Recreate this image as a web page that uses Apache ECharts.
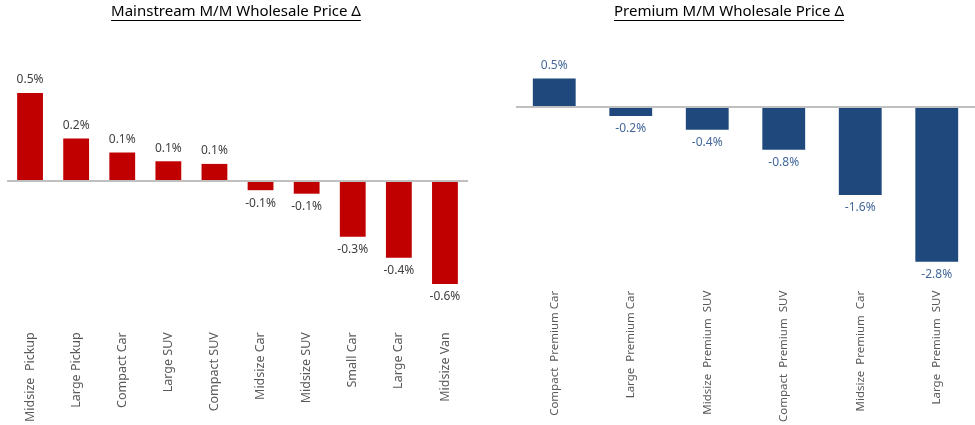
<!DOCTYPE html>
<html>
<head>
<meta charset="utf-8">
<title>Wholesale Price</title>
<script src="https://cdn.jsdelivr.net/npm/echarts@6/dist/echarts.min.js"></script>
<style>
  html, body { margin: 0; padding: 0; background: #fff; }
  #main { width: 975px; height: 425px; }
</style>
</head>
<body>
<div id="main"></div>
<script>
// mainstream segments
var mainCats = ['Midsize  Pickup', 'Large Pickup', 'Compact Car', 'Large SUV', 'Compact SUV',
                'Midsize Car', 'Midsize SUV', 'Small Car', 'Large Car', 'Midsize Van'];
var mainVals = [0.50, 0.24, 0.16, 0.11, 0.095, -0.055, -0.075, -0.32, -0.44, -0.59];
var mainLabels = ['0.5%', '0.2%', '0.1%', '0.1%', '0.1%', '-0.1%', '-0.1%', '-0.3%', '-0.4%', '-0.6%'];

// premium segments
var premCats = ['Compact  Premium Car', 'Large  Premium Car', 'Midsize  Premium  SUV',
                'Compact  Premium  SUV', 'Midsize  Premium  Car', 'Large  Premium  SUV'];
var premVals = [0.52, -0.16, -0.41, -0.77, -1.59, -2.8];
var premLabels = ['0.5%', '-0.2%', '-0.4%', '-0.8%', '-1.6%', '-2.8%'];

var FONT = 'Noto Sans';

function measure(txt, size) {
    var c = document.createElement('canvas').getContext('2d');
    c.font = size + 'px "' + FONT + '"';
    return c.measureText(txt).width;
}

// title text plus a drawn underline (zrender text has no underline)
function titleGraphic(txt, cx) {
    var w = measure(txt, 15);
    return [{
        type: 'text', left: cx - w / 2, top: 4,
        style: { text: txt, font: '15px "' + FONT + '"', fill: '#000' }
    }, {
        type: 'line',
        shape: { x1: cx - w / 2, y1: 20.5, x2: cx + w / 2, y2: 20.5 },
        style: { stroke: '#000', lineWidth: 1 }
    }];
}

function barSeries(idx, vals, labels, color, labelColor) {
    return {
        type: 'bar',
        xAxisIndex: idx, yAxisIndex: idx,
        barWidth: '56%',
        data: vals.map(function (v) {
            return {
                value: v,
                label: { position: v >= 0 ? 'top' : 'bottom' }
            };
        }),
        itemStyle: { color: color },
        label: {
            show: true, distance: 7,
            color: labelColor, fontSize: 12, fontFamily: FONT,
            formatter: function (p) { return labels[p.dataIndex]; }
        },
        markLine: {
            silent: true, symbol: 'none',
            label: { show: false },
            lineStyle: { color: '#c0c0c0', width: 2, type: 'solid' },
            data: [{ yAxis: 0 }]
        },
        animation: false
    };
}

function catAxis(idx, cats, margin, size) {
    return {
        type: 'category', gridIndex: idx, data: cats,
        position: 'bottom',
        axisLine: { show: false, onZero: false },
        axisTick: { show: false },
        axisLabel: {
            interval: 0, rotate: 90, margin: margin,
            color: '#595959', fontSize: size, fontFamily: FONT
        }
    };
}

function valAxis(idx, min, max) {
    return {
        type: 'value', gridIndex: idx, min: min, max: max,
        show: false, splitLine: { show: false }
    };
}

var chart = echarts.init(document.getElementById('main'));
chart.setOption({
    backgroundColor: '#fff',
    animation: false,
    graphic: titleGraphic('Mainstream M/M Wholesale Price \u0394', 236)
        .concat(titleGraphic('Premium M/M Wholesale Price \u0394', 729)),
    grid: [
        { left: 7, width: 461, top: 75.4, height: 228.8 },
        { left: 516, width: 463, top: 52, height: 224 }
    ],
    xAxis: [catAxis(0, mainCats, 29, 12.5), catAxis(1, premCats, 18, 11.5)],
    yAxis: [valAxis(0, -0.7, 0.6), valAxis(1, -3, 1)],
    series: [
        barSeries(0, mainVals, mainLabels, '#c00000', '#404040'),
        barSeries(1, premVals, premLabels, '#1f497d', '#44689b')
    ]
});
</script>
</body>
</html>
